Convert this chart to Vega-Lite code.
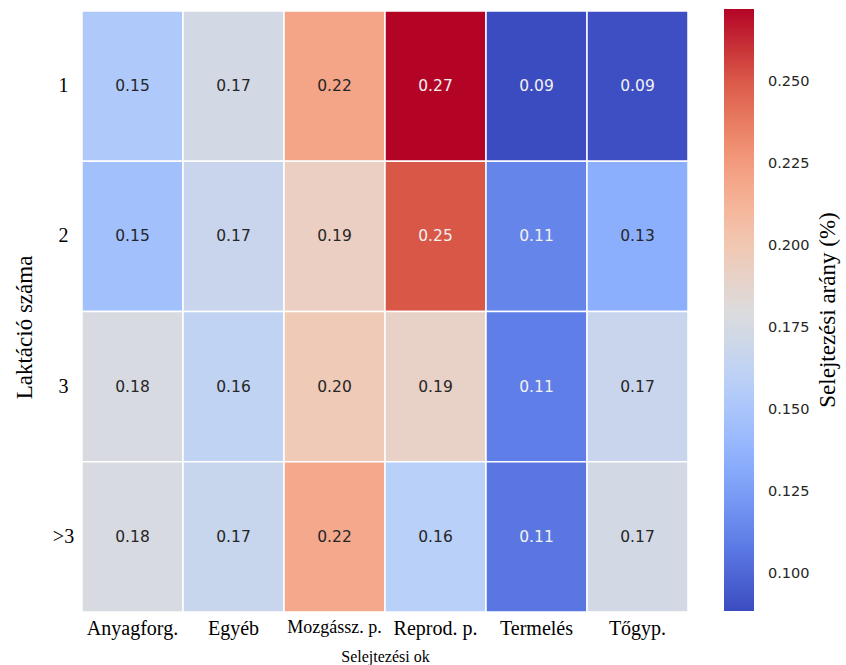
{
  "$schema": "https://vega.github.io/schema/vega-lite/v6.json",
  "width": 606,
  "height": 601,
  "autosize": "none",
  "padding": {"left": 82, "top": 11, "right": 158, "bottom": 53},
  "background": "white",
  "config": {"view": {"stroke": null}},
  "data": {
    "values": [
      {"lakt": "1", "ok": "Anyagforg.", "arany": 0.153},
      {"lakt": "1", "ok": "Egyéb", "arany": 0.174},
      {"lakt": "1", "ok": "Mozgássz. p.", "arany": 0.221},
      {"lakt": "1", "ok": "Reprod. p.", "arany": 0.2723},
      {"lakt": "1", "ok": "Termelés", "arany": 0.0887},
      {"lakt": "1", "ok": "Tőgyp.", "arany": 0.090},
      {"lakt": "2", "ok": "Anyagforg.", "arany": 0.146},
      {"lakt": "2", "ok": "Egyéb", "arany": 0.168},
      {"lakt": "2", "ok": "Mozgássz. p.", "arany": 0.193},
      {"lakt": "2", "ok": "Reprod. p.", "arany": 0.251},
      {"lakt": "2", "ok": "Termelés", "arany": 0.113},
      {"lakt": "2", "ok": "Tőgyp.", "arany": 0.134},
      {"lakt": "3", "ok": "Anyagforg.", "arany": 0.177},
      {"lakt": "3", "ok": "Egyéb", "arany": 0.163},
      {"lakt": "3", "ok": "Mozgássz. p.", "arany": 0.198},
      {"lakt": "3", "ok": "Reprod. p.", "arany": 0.191},
      {"lakt": "3", "ok": "Termelés", "arany": 0.110},
      {"lakt": "3", "ok": "Tőgyp.", "arany": 0.168},
      {"lakt": ">3", "ok": "Anyagforg.", "arany": 0.177},
      {"lakt": ">3", "ok": "Egyéb", "arany": 0.167},
      {"lakt": ">3", "ok": "Mozgássz. p.", "arany": 0.218},
      {"lakt": ">3", "ok": "Reprod. p.", "arany": 0.158},
      {"lakt": ">3", "ok": "Termelés", "arany": 0.107},
      {"lakt": ">3", "ok": "Tőgyp.", "arany": 0.174}
    ]
  },
  "encoding": {
    "x": {
      "field": "ok",
      "type": "nominal",
      "sort": ["Anyagforg.", "Egyéb", "Mozgássz. p.", "Reprod. p.", "Termelés", "Tőgyp."],
      "scale": {"paddingInner": 0, "paddingOuter": 0},
      "axis": {
        "title": "Selejtezési  ok",
        "titleFont": "Liberation Serif",
        "titleFontSize": 16,
        "titleFontWeight": "normal",
        "titleColor": "black",
        "titlePadding": 10,
        "labelFont": "Liberation Serif",
        "labelFontSize": {"condition": {"test": "datum.value == 'Mozgássz. p.'", "value": 18}, "value": 20},
        "labelColor": "black",
        "labelAngle": 0,
        "labelPadding": 6,
        "ticks": false,
        "tickSize": 0,
        "domain": false,
        "grid": false
      }
    },
    "y": {
      "field": "lakt",
      "type": "nominal",
      "sort": ["1", "2", "3", ">3"],
      "scale": {"paddingInner": 0, "paddingOuter": 0},
      "axis": {
        "title": "Laktáció száma",
        "titleFont": "Liberation Serif",
        "titleFontSize": 23,
        "titleFontWeight": "normal",
        "titleColor": "black",
        "titlePadding": 16,
        "titleY": 316,
        "labelFont": "Liberation Serif",
        "labelFontSize": 20,
        "labelColor": "black",
        "labelAlign": "center",
        "labelPadding": 19,
        "ticks": false,
        "tickSize": 0,
        "domain": false,
        "grid": false
      }
    }
  },
  "layer": [
    {
      "mark": {"type": "rect", "stroke": "white", "strokeWidth": 1.5},
      "encoding": {
        "color": {
          "field": "arany",
          "type": "quantitative",
          "scale": {
            "domain": [0.0887, 0.11165, 0.1346, 0.15755, 0.1805, 0.20345, 0.2264, 0.24935, 0.2723],
            "range": ["#3b4cc0", "#6282ea", "#8db0fe", "#b8d0f9", "#dddcdc", "#f5c4ac", "#f49a7b", "#dc5d4a", "#b40426"],
            "interpolate": "rgb"
          },
          "legend": {
            "orient": "none",
            "legendX": 642,
            "legendY": -2,
            "direction": "vertical",
            "gradientLength": 602,
            "gradientThickness": 30,
            "gradientStrokeWidth": 0,
            "values": [0.1, 0.125, 0.15, 0.175, 0.2, 0.225, 0.25],
            "format": ".3f",
            "labelFont": "DejaVu Sans",
            "labelFontSize": 14.5,
            "labelColor": "#262626",
            "labelOffset": 14,
            "labelOverlap": false,
            "title": "Selejtezési arány (%)",
            "titleOrient": "right",
            "titleAnchor": "middle",
            "titleFont": "Liberation Serif",
            "titleFontSize": 23,
            "titleFontWeight": "normal",
            "titleColor": "black",
            "titlePadding": 30,
            "titleLimit": 600,
            "encode": {"title": {"update": {"angle": {"value": 270}}}}
          }
        }
      }
    },
    {
      "mark": {"type": "text", "font": "DejaVu Sans", "fontSize": 15.5},
      "encoding": {
        "text": {"field": "arany", "type": "quantitative", "format": ".2f"},
        "color": {
          "condition": {"test": "datum.arany < 0.12 || datum.arany > 0.24", "value": "#f2f2f2"},
          "value": "#262626"
        }
      }
    }
  ]
}
